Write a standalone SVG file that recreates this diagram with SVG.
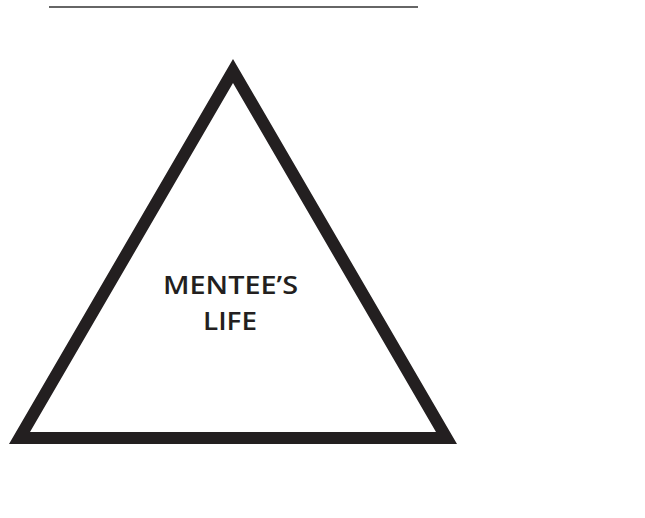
<svg xmlns="http://www.w3.org/2000/svg" width="645" height="518" viewBox="0 0 645 518">
<style>
.lbl{font-family:"Open Sans","Noto Sans",sans-serif;font-weight:600;font-size:26px;fill:#231f20;text-anchor:middle}
</style>
<rect width="645" height="518" fill="#ffffff"/>
<g id="rule"><line x1="49" y1="7" x2="418" y2="7" stroke="#333333" stroke-width="1.3"/></g>
<g id="triangle">
<path d="M233,59 L457,444 L9,444 Z M233,83 L30,432 L436,432 Z" fill="#231f20" fill-rule="evenodd"/>
<text class="lbl" x="230.5" y="294" textLength="135" lengthAdjust="spacingAndGlyphs">MENTEE’S</text>
<text class="lbl" x="230" y="330" textLength="54" lengthAdjust="spacingAndGlyphs">LIFE</text>
</g>
<g id="connectors"></g>
</svg>
